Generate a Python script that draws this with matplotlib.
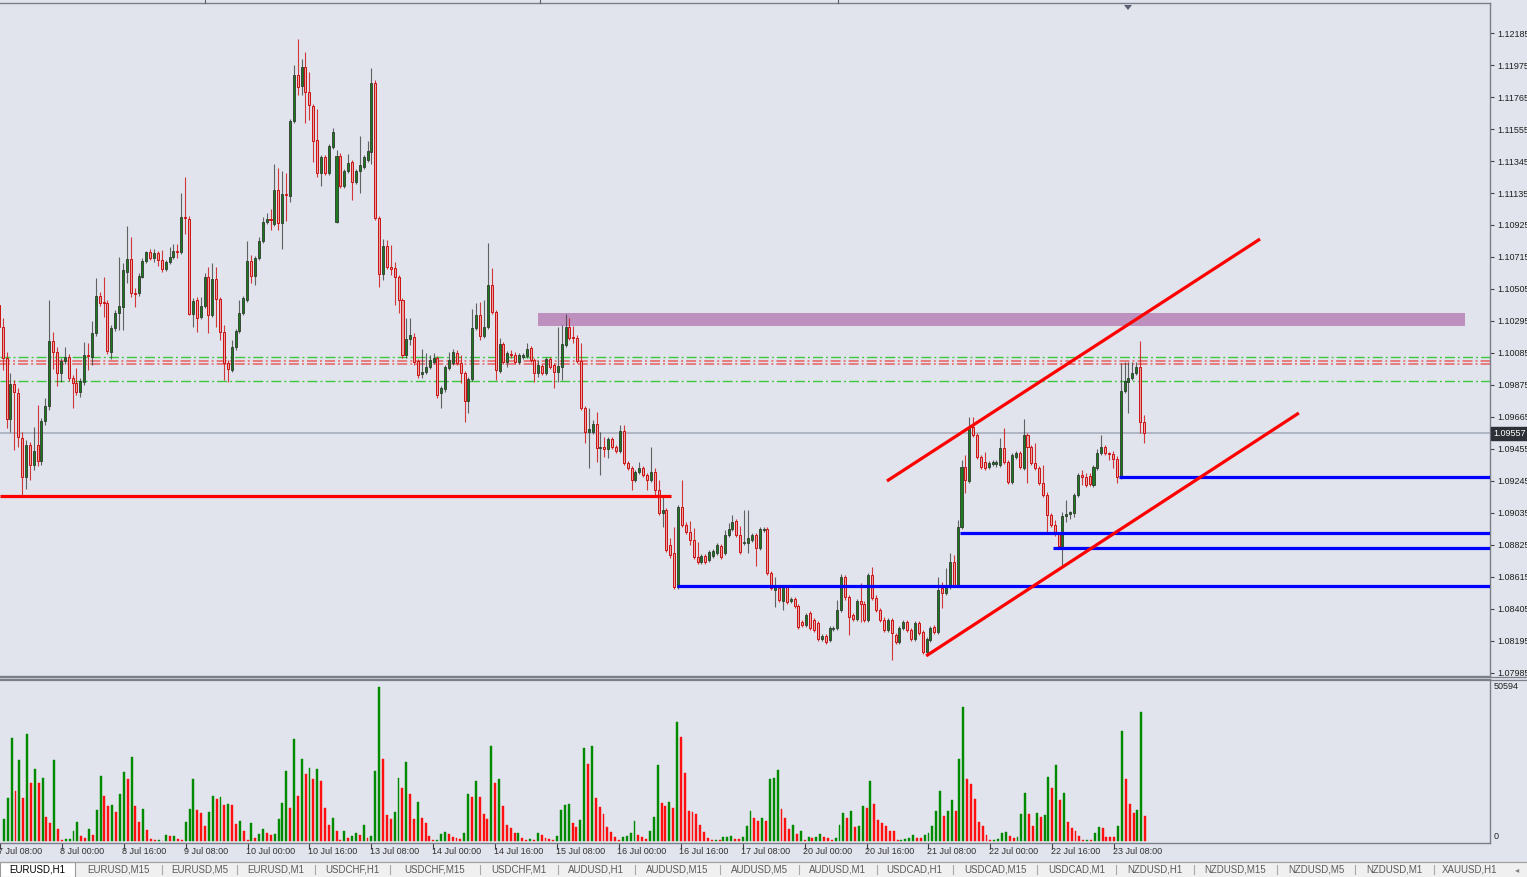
import matplotlib
matplotlib.use("Agg")
import matplotlib.pyplot as plt
import matplotlib.transforms as mtransforms
from matplotlib.patches import Rectangle, Polygon
from matplotlib.lines import Line2D
import numpy as np

plt.rcParams['font.family'] = ['Liberation Sans', 'DejaVu Sans']
plt.rcParams['lines.scale_dashes'] = False

# ---------------- data (EURUSD H1, bar 0 = 7 Jul 10:00; first bar index -1) ----------------
first_bar = -1

opens = [
1.10400, 1.10256, 1.10052, 1.09652, 1.09882, 1.09822, 1.09527, 1.09271, 1.09481, 1.09350,
1.09481, 1.09376, 1.09639, 1.09737, 1.10164, 1.10092, 1.09954, 1.10032, 1.10059, 1.09921,
1.09888, 1.09829, 1.09895, 1.10072, 1.10059, 1.10216, 1.10459, 1.10420, 1.10413, 1.10092,
1.10249, 1.10347, 1.10387, 1.10617, 1.10702, 1.10479, 1.10479, 1.10584, 1.10689, 1.10748,
1.10708, 1.10741, 1.10695, 1.10636, 1.10682, 1.10715, 1.10754, 1.10748, 1.10977, 1.10964,
1.10341, 1.10433, 1.10321, 1.10393, 1.10584, 1.10334, 1.10571, 1.10439, 1.10223, 1.10019,
1.09973, 1.10124, 1.10229, 1.10347, 1.10433, 1.10689, 1.10590, 1.10708, 1.10820, 1.10945,
1.10964, 1.10932, 1.11155, 1.10938, 1.11128, 1.11115, 1.11607, 1.11909, 1.11837, 1.11962,
1.11798, 1.11706, 1.11483, 1.11266, 1.11371, 1.11266, 1.11437, 1.10945, 1.11378, 1.11181,
1.11279, 1.11338, 1.11207, 1.11279, 1.11306, 1.11352, 1.11404, 1.11857, 1.10971, 1.10603,
1.10787, 1.10649, 1.10643, 1.10584, 1.10433, 1.10072, 1.10177, 1.10190, 1.10032, 1.09947,
1.09960, 1.09993, 1.10026, 1.10052, 1.09822, 1.09849, 1.09987, 1.10019, 1.10085, 1.10019,
1.09954, 1.09770, 1.09914, 1.10249, 1.10334, 1.10197, 1.10256, 1.10531, 1.10354, 1.09967,
1.10144, 1.10026, 1.10078, 1.10072, 1.10026, 1.10059, 1.10065, 1.10118, 1.10039, 1.09954,
1.10000, 1.09954, 1.10046, 1.10006, 1.09960, 1.09993, 1.10137, 1.10256, 1.10190, 1.10183,
1.10032, 1.09724, 1.09567, 1.09567, 1.09619, 1.09462, 1.09468, 1.09455, 1.09521, 1.09468,
1.09442, 1.09573, 1.09363, 1.09330, 1.09252, 1.09304, 1.09330, 1.09284, 1.09252, 1.09304,
1.09186, 1.09035, 1.09055, 1.08825, 1.08772, 1.08549, 1.09074, 1.08956, 1.08910, 1.08858,
1.08746, 1.08713, 1.08753, 1.08727, 1.08753, 1.08772, 1.08818, 1.08772, 1.08891, 1.08930,
1.08982, 1.08891, 1.08838, 1.08838, 1.08858, 1.08891, 1.08805, 1.08923, 1.08930, 1.08641,
1.08530, 1.08543, 1.08457, 1.08549, 1.08457, 1.08471, 1.08425, 1.08320, 1.08300, 1.08379,
1.08333, 1.08313, 1.08208, 1.08228, 1.08202, 1.08274, 1.08280, 1.08398, 1.08615, 1.08484,
1.08366, 1.08339, 1.08457, 1.08438, 1.08333, 1.08628, 1.08477, 1.08398, 1.08333, 1.08267,
1.08333, 1.08234, 1.08188, 1.08280, 1.08320, 1.08267, 1.08208, 1.08313, 1.08254, 1.08123,
1.08202, 1.08287, 1.08254, 1.08543, 1.08510, 1.08549, 1.08713, 1.08562, 1.08943, 1.09337,
1.09245, 1.09599, 1.09547, 1.09402, 1.09370, 1.09337, 1.09357, 1.09357, 1.09350, 1.09462,
1.09370, 1.09238, 1.09402, 1.09429, 1.09330, 1.09547, 1.09468, 1.09363, 1.09330, 1.09232,
1.09153, 1.09022, 1.08956, 1.08897, 1.08812, 1.09015, 1.09028, 1.09035, 1.09153, 1.09284,
1.09271, 1.09278, 1.09219, 1.09330, 1.09429, 1.09468, 1.09429, 1.09422, 1.09389, 1.09271,
1.09836, 1.09895, 1.09921, 1.09954, 1.09993, 1.09632,
]

highs = [
1.10433, 1.10315, 1.10092, 1.09954, 1.09908, 1.09855, 1.09567, 1.09514, 1.09501, 1.09599,
1.09744, 1.09658, 1.09790, 1.10433, 1.10223, 1.10124, 1.10052, 1.10124, 1.10078, 1.09941,
1.09987, 1.09921, 1.10157, 1.10151, 1.10295, 1.10577, 1.10485, 1.10584, 1.10433, 1.10269,
1.10367, 1.10715, 1.10676, 1.10918, 1.10846, 1.10512, 1.10610, 1.10708, 1.10754, 1.10767,
1.10767, 1.10754, 1.10761, 1.10695, 1.10781, 1.10800, 1.10800, 1.11135, 1.11240, 1.10984,
1.10446, 1.10452, 1.10452, 1.10610, 1.10649, 1.10676, 1.10649, 1.10452, 1.10269, 1.10039,
1.10170, 1.10242, 1.10433, 1.10459, 1.10820, 1.10728, 1.10722, 1.10846, 1.10977, 1.11004,
1.11030, 1.11325, 1.11299, 1.11279, 1.11266, 1.11621, 1.11975, 1.12146, 1.12014, 1.12060,
1.11929, 1.11719, 1.11686, 1.11384, 1.11384, 1.11457, 1.11562, 1.11417, 1.11397, 1.11292,
1.11391, 1.11352, 1.11292, 1.11509, 1.11384, 1.11476, 1.11955, 1.11877, 1.10984, 1.10833,
1.10827, 1.10794, 1.10682, 1.10597, 1.10446, 1.10315, 1.10315, 1.10216, 1.10046, 1.10111,
1.10085, 1.10072, 1.10085, 1.10065, 1.09868, 1.10006, 1.10092, 1.10111, 1.10105, 1.10072,
1.09967, 1.09927, 1.10374, 1.10413, 1.10420, 1.10433, 1.10807, 1.10643, 1.10367, 1.10183,
1.10157, 1.10098, 1.10105, 1.10092, 1.10085, 1.10085, 1.10151, 1.10131, 1.10052, 1.10039,
1.10013, 1.10059, 1.10059, 1.10019, 1.10256, 1.10269, 1.10341, 1.10315, 1.10262, 1.10203,
1.10151, 1.09737, 1.09724, 1.09645, 1.09698, 1.09567, 1.09534, 1.09534, 1.09534, 1.09481,
1.09612, 1.09612, 1.09376, 1.09343, 1.09317, 1.09370, 1.09343, 1.09297, 1.09468, 1.09330,
1.09252, 1.09153, 1.09068, 1.08871, 1.08943, 1.09087, 1.09252, 1.08976, 1.08982, 1.08937,
1.08845, 1.08766, 1.08766, 1.08792, 1.08799, 1.08838, 1.08832, 1.08923, 1.08969, 1.09022,
1.08996, 1.08950, 1.09055, 1.09055, 1.08904, 1.08904, 1.08943, 1.08943, 1.08943, 1.08654,
1.08615, 1.08556, 1.08562, 1.08562, 1.08484, 1.08484, 1.08438, 1.08333, 1.08379, 1.08392,
1.08346, 1.08326, 1.08241, 1.08241, 1.08293, 1.08293, 1.08464, 1.08635, 1.08628, 1.08497,
1.08379, 1.08471, 1.08576, 1.08457, 1.08641, 1.08681, 1.08497, 1.08412, 1.08352, 1.08346,
1.08346, 1.08247, 1.08293, 1.08333, 1.08333, 1.08280, 1.08326, 1.08326, 1.08267, 1.08221,
1.08293, 1.08300, 1.08615, 1.08582, 1.08674, 1.08772, 1.08759, 1.08989, 1.09383, 1.09416,
1.09665, 1.09665, 1.09560, 1.09416, 1.09435, 1.09376, 1.09383, 1.09383, 1.09527, 1.09593,
1.09383, 1.09429, 1.09442, 1.09442, 1.09652, 1.09560, 1.09481, 1.09494, 1.09343, 1.09350,
1.09173, 1.09035, 1.08989, 1.08910, 1.09042, 1.09120, 1.09048, 1.09166, 1.09297, 1.09317,
1.09297, 1.09297, 1.09350, 1.09455, 1.09547, 1.09481, 1.09435, 1.09442, 1.09409, 1.10019,
1.10026, 1.10026, 1.10026, 1.10026, 1.10164, 1.09678,
]

lows = [
1.10170, 1.09973, 1.09593, 1.09567, 1.09448, 1.09468, 1.09153, 1.09192, 1.09252, 1.09317,
1.09343, 1.09350, 1.09612, 1.09711, 1.09980, 1.09868, 1.09895, 1.10013, 1.09901, 1.09724,
1.09809, 1.09796, 1.09875, 1.09973, 1.10006, 1.10197, 1.10393, 1.10321, 1.10078, 1.10046,
1.10229, 1.10236, 1.10236, 1.10544, 1.10452, 1.10387, 1.10459, 1.10577, 1.10676, 1.10695,
1.10682, 1.10656, 1.10617, 1.10623, 1.10669, 1.10702, 1.10708, 1.10735, 1.10866, 1.10334,
1.10256, 1.10223, 1.10308, 1.10380, 1.10216, 1.10321, 1.10256, 1.10170, 1.09908, 1.09895,
1.09960, 1.10105, 1.10216, 1.10334, 1.10420, 1.10544, 1.10531, 1.10695, 1.10807, 1.10932,
1.10892, 1.10918, 1.10892, 1.10767, 1.10951, 1.11076, 1.11594, 1.11778, 1.11778, 1.11594,
1.11614, 1.11338, 1.11240, 1.11181, 1.11253, 1.11253, 1.11424, 1.10938, 1.11168, 1.11168,
1.11266, 1.11089, 1.11194, 1.11135, 1.11292, 1.11338, 1.11325, 1.10958, 1.10518, 1.10564,
1.10636, 1.10597, 1.10400, 1.10347, 1.10052, 1.10052, 1.10137, 1.10006, 1.09921, 1.09921,
1.09947, 1.09980, 1.10013, 1.09790, 1.09724, 1.09829, 1.09973, 1.10006, 1.10006, 1.09888,
1.09632, 1.09691, 1.09901, 1.10236, 1.10170, 1.10183, 1.10242, 1.10341, 1.09908, 1.09954,
1.10013, 1.09993, 1.10052, 1.10013, 1.10013, 1.10046, 1.10052, 1.10026, 1.09895, 1.09927,
1.09941, 1.09941, 1.09980, 1.09855, 1.09895, 1.09908, 1.10124, 1.10170, 1.10151, 1.10019,
1.09711, 1.09494, 1.09330, 1.09553, 1.09370, 1.09284, 1.09402, 1.09396, 1.09455, 1.09429,
1.09429, 1.09350, 1.09317, 1.09186, 1.09238, 1.09291, 1.09271, 1.09186, 1.09238, 1.09153,
1.09022, 1.08943, 1.08779, 1.08740, 1.08536, 1.08536, 1.08943, 1.08897, 1.08825, 1.08733,
1.08700, 1.08700, 1.08700, 1.08713, 1.08740, 1.08759, 1.08733, 1.08759, 1.08877, 1.08917,
1.08877, 1.08766, 1.08825, 1.08772, 1.08845, 1.08687, 1.08792, 1.08910, 1.08628, 1.08530,
1.08418, 1.08451, 1.08398, 1.08438, 1.08444, 1.08412, 1.08274, 1.08287, 1.08287, 1.08267,
1.08254, 1.08195, 1.08195, 1.08175, 1.08188, 1.08261, 1.08267, 1.08385, 1.08464, 1.08234,
1.08326, 1.08326, 1.08320, 1.08320, 1.08320, 1.08464, 1.08385, 1.08320, 1.08254, 1.08254,
1.08070, 1.08175, 1.08175, 1.08267, 1.08254, 1.08195, 1.08195, 1.08234, 1.08110, 1.08110,
1.08188, 1.08241, 1.08241, 1.08412, 1.08497, 1.08536, 1.08549, 1.08549, 1.08930, 1.09166,
1.09232, 1.09534, 1.09389, 1.09324, 1.09317, 1.09324, 1.09343, 1.09337, 1.09337, 1.09357,
1.09225, 1.09225, 1.09389, 1.09324, 1.09317, 1.09232, 1.09350, 1.09317, 1.09219, 1.09140,
1.08910, 1.08943, 1.08884, 1.08805, 1.08681, 1.08976, 1.08996, 1.09009, 1.09140, 1.09219,
1.09206, 1.09212, 1.09206, 1.09317, 1.09416, 1.09416, 1.09383, 1.09330, 1.09232, 1.09258,
1.09822, 1.09691, 1.09908, 1.09941, 1.09560, 1.09494,
]

closes = [
1.10256, 1.10052, 1.09652, 1.09882, 1.09829, 1.09534, 1.09271, 1.09481, 1.09350, 1.09442,
1.09376, 1.09639, 1.09737, 1.10164, 1.10092, 1.09954, 1.10032, 1.10059, 1.09921, 1.09888,
1.09829, 1.09901, 1.10072, 1.10065, 1.10216, 1.10459, 1.10413, 1.10413, 1.10098, 1.10249,
1.10347, 1.10393, 1.10630, 1.10702, 1.10479, 1.10472, 1.10590, 1.10689, 1.10748, 1.10708,
1.10741, 1.10695, 1.10636, 1.10682, 1.10715, 1.10754, 1.10748, 1.10977, 1.10971, 1.10341,
1.10426, 1.10315, 1.10393, 1.10584, 1.10334, 1.10571, 1.10439, 1.10223, 1.10019, 1.09980,
1.10124, 1.10229, 1.10347, 1.10446, 1.10689, 1.10590, 1.10708, 1.10820, 1.10945, 1.10964,
1.10958, 1.11155, 1.10938, 1.11128, 1.11122, 1.11607, 1.11909, 1.11831, 1.11962, 1.11798,
1.11712, 1.11476, 1.11266, 1.11371, 1.11266, 1.11443, 1.11535, 1.11378, 1.11181, 1.11279,
1.11332, 1.11207, 1.11279, 1.11319, 1.11371, 1.11411, 1.11857, 1.10971, 1.10603, 1.10787,
1.10649, 1.10636, 1.10584, 1.10433, 1.10072, 1.10177, 1.10203, 1.10026, 1.09941, 1.09960,
1.09993, 1.10039, 1.10052, 1.09809, 1.09855, 1.09993, 1.10039, 1.10092, 1.10019, 1.09954,
1.09770, 1.09914, 1.10249, 1.10334, 1.10197, 1.10256, 1.10531, 1.10354, 1.09973, 1.10144,
1.10026, 1.10085, 1.10072, 1.10026, 1.10072, 1.10072, 1.10111, 1.10039, 1.09954, 1.10006,
1.09954, 1.10046, 1.09993, 1.09960, 1.10000, 1.10144, 1.10256, 1.10183, 1.10183, 1.10032,
1.09724, 1.09567, 1.09586, 1.09619, 1.09462, 1.09468, 1.09455, 1.09521, 1.09468, 1.09442,
1.09573, 1.09363, 1.09330, 1.09252, 1.09304, 1.09330, 1.09284, 1.09252, 1.09304, 1.09186,
1.09035, 1.09055, 1.08792, 1.08759, 1.08549, 1.09074, 1.08956, 1.08910, 1.08858, 1.08746,
1.08713, 1.08753, 1.08713, 1.08779, 1.08786, 1.08825, 1.08746, 1.08891, 1.08930, 1.08976,
1.08891, 1.08779, 1.08845, 1.08871, 1.08891, 1.08805, 1.08930, 1.08930, 1.08641, 1.08543,
1.08562, 1.08464, 1.08549, 1.08451, 1.08471, 1.08425, 1.08287, 1.08300, 1.08366, 1.08280,
1.08267, 1.08208, 1.08228, 1.08188, 1.08280, 1.08280, 1.08398, 1.08615, 1.08484, 1.08352,
1.08339, 1.08457, 1.08438, 1.08333, 1.08628, 1.08477, 1.08398, 1.08333, 1.08267, 1.08333,
1.08247, 1.08188, 1.08280, 1.08320, 1.08267, 1.08208, 1.08313, 1.08247, 1.08123, 1.08208,
1.08280, 1.08254, 1.08530, 1.08510, 1.08556, 1.08713, 1.08562, 1.08943, 1.09337, 1.09252,
1.09593, 1.09547, 1.09402, 1.09337, 1.09330, 1.09363, 1.09370, 1.09370, 1.09462, 1.09370,
1.09238, 1.09416, 1.09429, 1.09337, 1.09547, 1.09468, 1.09363, 1.09330, 1.09232, 1.09153,
1.09022, 1.08956, 1.08897, 1.08818, 1.09015, 1.09028, 1.09042, 1.09153, 1.09284, 1.09271,
1.09219, 1.09225, 1.09337, 1.09429, 1.09468, 1.09429, 1.09422, 1.09389, 1.09271, 1.09836,
1.09901, 1.09921, 1.09954, 1.09993, 1.09632, 1.09557,
]

volumes = [
7120, 14020, 33730, 16420, 26610, 14020, 35040, 18940, 23650, 19160,
20590, 8000, 5800, 26610, 3940, 300, 660, 700, 3280, 6130,
1640, 1095, 3940, 1970, 10290, 21460, 14780, 11500, 11830, 9640,
15440, 22780, 20480, 27490, 11500, 6240, 10620, 3610, 660, 200,
330, 150, 1970, 1640, 1700, 660, 330, 6130, 10400, 20480,
10290, 9090, 4930, 9640, 14780, 13800, 14450, 11830, 12150, 11830,
5590, 6570, 3280, 200, 5800, 1095, 2190, 3940, 2630, 1970,
2300, 7120, 12480, 22990, 10950, 33510, 14780, 26830, 22010, 23980,
20260, 23650, 19600, 10950, 5260, 7450, 3280, 200, 3280, 1095,
1640, 2520, 1970, 5260, 1095, 1640, 22990, 50594, 26940, 8430,
7230, 9420, 20810, 17300, 25840, 15440, 7230, 12810, 7450, 5800,
1640, 300, 400, 2410, 2960, 2190, 1420, 1095, 660, 2630,
15440, 14450, 19820, 14450, 8760, 7230, 31100, 18940, 20480, 11500,
5260, 4270, 2630, 2700, 1095, 300, 660, 200, 2630, 1970,
985, 770, 440, 1640, 10290, 11830, 12150, 5800, 4600, 6790,
30440, 25290, 31320, 14130, 11170, 8760, 4490, 2960, 1310, 300,
1310, 1640, 2630, 6570, 1970, 1310, 660, 3280, 8000, 24970,
12480, 11500, 12810, 10950, 38980, 34160, 22450, 9970, 9420, 9000,
5260, 2960, 985, 300, 400, 200, 1310, 1400, 1500, 770,
700, 1310, 4930, 9750, 7450, 6570, 7450, 6570, 20480, 20600,
23320, 10620, 7450, 3940, 5150, 2300, 3280, 200, 1310, 985,
1310, 2300, 1310, 985, 440, 985, 5150, 9090, 7450, 9970,
4600, 4930, 11610, 10950, 19600, 12260, 6790, 5800, 4930, 3280,
3200, 200, 440, 500, 985, 1970, 985, 900, 1970, 2630,
4930, 9970, 16310, 8100, 9970, 13470, 9970, 26940, 44130, 20480,
18620, 13800, 6130, 4930, 1970, 200, 440, 500, 2630, 2960,
1640, 985, 1310, 8760, 15770, 8760, 4930, 9090, 7780, 8500,
21140, 17300, 24970, 13470, 15770, 6130, 4270, 3280, 1640, 200,
300, 200, 2630, 4600, 4270, 1310, 1300, 1290, 4930, 36130,
20480, 12260, 9090, 10290, 42490, 8100,
]

time_labels = ["7 Jul 08:00", "8 Jul 00:00", "8 Jul 16:00", "9 Jul 08:00", "10 Jul 00:00",
               "10 Jul 16:00", "13 Jul 08:00", "14 Jul 00:00", "14 Jul 16:00", "15 Jul 08:00",
               "16 Jul 00:00", "16 Jul 16:00", "17 Jul 08:00", "20 Jul 00:00", "20 Jul 16:00",
               "21 Jul 08:00", "22 Jul 00:00", "22 Jul 16:00", "23 Jul 08:00"]
time_label_bars = [-2, 14, 30, 46, 62, 78, 94, 110, 126, 142, 158, 174, 190, 206, 222,
                   238, 254, 270, 286]

price_ticks = [1.07985, 1.08195, 1.08405, 1.08615, 1.08825, 1.09035, 1.09245, 1.09455,
               1.09665, 1.09875, 1.10085, 1.10295, 1.10505, 1.10715, 1.10925, 1.11135,
               1.11345, 1.11555, 1.11765, 1.11975, 1.12185]
current_price = 1.09557
vol_max_label = 50594

# drawn objects (price levels / anchors in bar-index, price units)
green_levels = [1.10061, 1.09901]
red_levels = [1.10032, 1.10011]
red_support = (1.09146, 172.2)                 # price, end bar
zone = (137.9, 376.7, 1.10262, 1.10347)        # bar0, bar1, p0, p1
blue_levels = [(1.08556, 173.7), (1.08904, 246.6), (1.08805, 270.6), (1.09271, 287.6)]
channel_upper = ([227.8, 323.9], [1.09245, 1.10833])
channel_lower = ([237.9, 333.9], [1.08097, 1.09691])

tabs = ["EURUSD,H1", "EURUSD,M15", "EURUSD,M5", "EURUSD,M1", "USDCHF,H1", "USDCHF,M15",
        "USDCHF,M1", "AUDUSD,H1", "AUDUSD,M15", "AUDUSD,M5", "AUDUSD,M1", "USDCAD,H1",
        "USDCAD,M15", "USDCAD,M1", "NZDUSD,H1", "NZDUSD,M15", "NZDUSD,M5", "NZDUSD,M1",
        "XAUUSD,H1"]

n = len(closes)
assert len(opens) == n and len(highs) == n and len(lows) == n and len(volumes) == n, \
    (len(opens), len(highs), len(lows), len(closes), len(volumes))

# ---------------- layout ----------------
W, H = 1527, 877
BG = '#E1E4EC'
AXC = '#7A7E88'
TXT = '#202020'

def fx(px):
    return px / W

def fy(py):
    return 1 - py / H

fig = plt.figure(figsize=(W / 100, H / 100), dpi=100)
fig.patch.set_facecolor(BG)

ax = fig.add_axes([0, fy(676), fx(1490), (676 - 3) / H])
axv = fig.add_axes([0, fy(843), fx(1490), (843 - 679) / H])
for a in (ax, axv):
    a.set_facecolor(BG)

x0 = -2.65 / 3.882
x1 = (1490 - 2.65) / 3.882
ax.set_xlim(x0, x1)
axv.set_xlim(x0, x1)
ax.set_ylim(1.07965, 1.12382)
axv.set_ylim(-657, 53217)

xs = np.arange(first_bar, first_bar + n)
o = np.array(opens); c = np.array(closes); hi = np.array(highs); lo = np.array(lows)
hi = np.maximum(hi, np.maximum(o, c))
lo = np.minimum(lo, np.minimum(o, c))
up = c > o
dn = ~up

# zone rectangle (background object)
ax.add_patch(Rectangle((zone[0], zone[2]), zone[1] - zone[0], zone[3] - zone[2],
                       facecolor='#BE90BE', edgecolor='none', zorder=1))

# dash-dot level lines
dd = (7.2, 2.2, 1.4, 2.2)
for lv in green_levels:
    ax.axhline(lv, color='#3CC83C', lw=1.0, dashes=dd, zorder=2)
for lv in red_levels:
    ax.axhline(lv, color='#E86060', lw=1.1, dashes=dd, zorder=2)

# current price line
ax.axhline(current_price, color='#A2A9B7', lw=1.1, zorder=1.5)

# candles
ax.vlines(xs[up], lo[up], hi[up], colors='#404040', lw=0.8, alpha=0.8, zorder=3)
ax.vlines(xs[dn], lo[dn], hi[dn], colors='#D01818', lw=0.8, alpha=0.85, zorder=3)
ax.bar(xs[up], (c - o)[up], bottom=o[up], width=0.52, color='#1E7A1E',
       edgecolor='#2C3A2C', linewidth=0.6, zorder=4)
ax.bar(xs[dn], (o - c)[dn], bottom=c[dn], width=0.52, color='#E9A2A2',
       edgecolor='#CC1010', linewidth=0.7, zorder=4)

# drawn lines
ax.hlines(red_support[0], x0, red_support[1], colors='#FF0000', lw=2.3, zorder=5)
for lv, start in blue_levels:
    ax.hlines(lv, start, x1, colors='#0000FF', lw=2.3, zorder=5)
ax.plot(channel_upper[0], channel_upper[1], color='#FF0000', lw=2.3, zorder=5,
        solid_capstyle='butt')
ax.plot(channel_lower[0], channel_lower[1], color='#FF0000', lw=2.3, zorder=5,
        solid_capstyle='butt')

# price axis
ax.yaxis.tick_right()
ax.set_yticks(price_ticks)
ax.set_yticklabels([f"{v:.5f}" for v in price_ticks])
ax.tick_params(axis='y', direction='out', length=3, width=0.8, color='#404040',
               pad=2, labelsize=6.5, labelcolor=TXT)
ax.set_xticks([])
ax.spines['left'].set_visible(False)
for s in ('right', 'top', 'bottom'):
    ax.spines[s].set_color(AXC)
    ax.spines[s].set_linewidth(1.0)

ax.text(1.0, current_price, f"{current_price:.5f}",
        transform=mtransforms.blended_transform_factory(ax.transAxes, ax.transData)
        + mtransforms.ScaledTranslation(3 / 100, 0, fig.dpi_scale_trans),
        ha='left', va='center', fontsize=6.5, color='white',
        bbox=dict(boxstyle='square,pad=0.22', facecolor='#2E3038', edgecolor='#2E3038'),
        zorder=10, clip_on=False)

# volumes (MT4 Volumes: green when volume rises vs previous bar)
v = np.array(volumes, dtype=float)
vcol = ['#008A00'] + ['#008A00' if v[i] > v[i - 1] else '#FF1010' for i in range(1, n)]
axv.bar(xs, v, width=0.5, color=vcol, edgecolor=vcol, linewidth=0.3, zorder=3)
axv.set_yticks([])
axv.spines['left'].set_visible(False)
for s in ('right', 'top', 'bottom'):
    axv.spines[s].set_color(AXC)
    axv.spines[s].set_linewidth(1.0)
btr = mtransforms.blended_transform_factory(axv.transAxes, axv.transData) + \
    mtransforms.ScaledTranslation(4 / 100, 0, fig.dpi_scale_trans)
axv.text(1.0, vol_max_label, str(vol_max_label), transform=btr, ha='left', va='center',
         fontsize=6.5, color=TXT, clip_on=False)
axv.text(1.0, 0, "0", transform=btr, ha='left', va='bottom', fontsize=6.5, color=TXT,
         clip_on=False)

# time axis
axv.set_xticks(time_label_bars)
axv.set_xticklabels([''] * len(time_label_bars))
axv.tick_params(axis='x', direction='out', length=4, width=0.8, color='#404040')
ttr = mtransforms.blended_transform_factory(axv.transData, fig.transFigure) + \
    mtransforms.ScaledTranslation(-1.5 / 100, 0, fig.dpi_scale_trans)
for b, lab in zip(time_label_bars, time_labels):
    axv.text(b, fy(852), lab, transform=ttr, ha='left', va='center', fontsize=6.5,
             color='#303030', clip_on=False)

# separator double line between panels
fig.add_artist(Line2D([0, 1], [fy(676.5), fy(676.5)], color=AXC, lw=0.9,
                      transform=fig.transFigure))
fig.add_artist(Line2D([0, 1], [fy(679.5), fy(679.5)], color=AXC, lw=0.9,
                      transform=fig.transFigure))

# top marks
for px in (205, 540, 838):
    fig.add_artist(Line2D([fx(px), fx(px)], [fy(0), fy(3)], color='#606060', lw=0.8,
                          transform=fig.transFigure))
fig.add_artist(Polygon([[fx(1124), fy(5)], [fx(1132), fy(5)], [fx(1128), fy(10)]],
                       closed=True, transform=fig.transFigure, facecolor='#5A6070',
                       edgecolor='none'))

# tab bar
fig.add_artist(Rectangle((0, 0), 1, fy(862), transform=fig.transFigure,
                         facecolor='#F0F0F0', edgecolor='none'))
fig.add_artist(Line2D([0, 1], [fy(862), fy(862)], color='#A0A0A0', lw=0.9,
                      transform=fig.transFigure))
fig.add_artist(Rectangle((0, 0), fx(75), fy(862), transform=fig.transFigure,
                         facecolor='white', edgecolor='#9A9A9A', lw=0.8))
seps = [0, 75, 162, 237.5, 315, 390, 480, 557.5, 635, 720, 799, 876.5, 953, 1037,
        1115.7, 1194, 1277, 1355, 1433.7, 1506]
for px in seps[2:-1]:
    fig.add_artist(Line2D([fx(px), fx(px)], [fy(874), fy(865)], color='#A8A8A8', lw=0.8,
                          transform=fig.transFigure))
for k, t in enumerate(tabs):
    cx = (seps[k] + seps[k + 1]) / 2
    fig.text(fx(cx), fy(870), t, ha='center', va='center', fontsize=7,
             color='#000000' if k == 0 else '#5A5A5A')
fig.text(fx(1517), fy(870), "\u25c2", ha='center', va='center', fontsize=6,
         color='#808080', family='DejaVu Sans')

fig.savefig("out.png", dpi=100, facecolor=fig.get_facecolor())
